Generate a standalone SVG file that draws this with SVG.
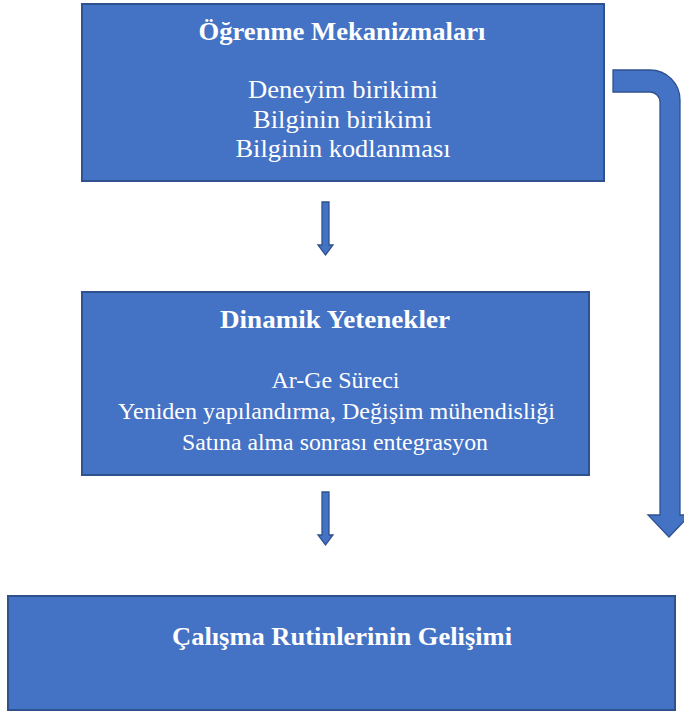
<svg xmlns="http://www.w3.org/2000/svg" width="684" height="713" viewBox="0 0 684 713">
  <style>
    .box { fill: #4472C4; stroke: #2F528F; stroke-width: 2; }
    .arrow { fill: #4472C4; stroke: #2F528F; stroke-width: 1.3; stroke-linejoin: miter; }
    text { font-family: 'Liberation Serif', 'Times New Roman', serif; fill: #FFFFFF; text-anchor: middle; }
    .title { font-weight: bold; font-size: 26px; }
    .body { font-size: 26px; }
    .body-sm { font-size: 23.5px; }
  </style>
  <rect width="684" height="713" fill="#FFFFFF"/>

  <!-- textLength pins each line to its measured run width -->
  <g id="ogrenme-mekanizmalari">
    <rect class="box" x="82" y="4" width="522" height="177"/>
    <text class="title" x="342" y="40" textLength="287" lengthAdjust="spacingAndGlyphs">Öğrenme Mekanizmaları</text>
    <text class="body" x="343" y="98" textLength="190" lengthAdjust="spacingAndGlyphs">Deneyim birikimi</text>
    <text class="body" x="342.5" y="128" textLength="179" lengthAdjust="spacingAndGlyphs">Bilginin birikimi</text>
    <text class="body" x="343" y="157" textLength="215" lengthAdjust="spacingAndGlyphs">Bilginin kodlanması</text>
  </g>

  <g id="dinamik-yetenekler">
    <rect class="box" x="82" y="292" width="507" height="183"/>
    <text class="title" x="335" y="328" textLength="230" lengthAdjust="spacingAndGlyphs">Dinamik Yetenekler</text>
    <text class="body-sm" x="335.5" y="388" textLength="128" lengthAdjust="spacingAndGlyphs">Ar-Ge Süreci</text>
    <text class="body-sm" x="336.5" y="419" textLength="437" lengthAdjust="spacingAndGlyphs">Yeniden yapılandırma, Değişim mühendisliği</text>
    <text class="body-sm" x="335" y="450" textLength="306" lengthAdjust="spacingAndGlyphs">Satına alma sonrası entegrasyon</text>
  </g>

  <g id="calisma-rutinleri">
    <rect class="box" x="8" y="596" width="667" height="114"/>
    <text class="title" x="342" y="645" textLength="340" lengthAdjust="spacingAndGlyphs">Çalışma Rutinlerinin Gelişimi</text>
  </g>

  <g id="connectors">
    <path class="arrow" d="M322,202 H329 V245 H333 L325.5,255 L318,245 H322 Z"/>
    <path class="arrow" d="M322,492 H329 V535 H333 L325.5,545 L318,535 H322 Z"/>
    <path class="arrow" d="M613,70 H650 A30,30 0 0 1 680,100 V515 H690 L669,537 L648,515 H660 V102 A10,10 0 0 0 650,92 H613 Z"/>
  </g>
</svg>
